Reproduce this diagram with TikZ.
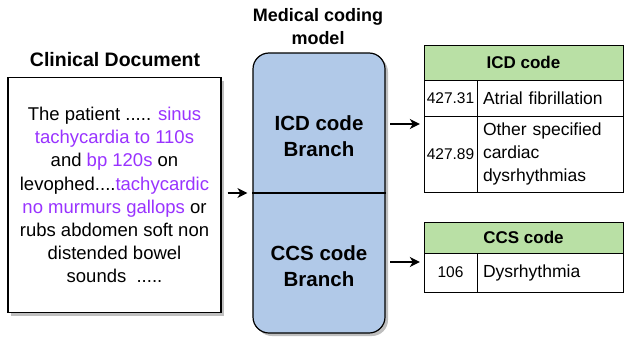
\documentclass[tikz,border=0pt]{standalone}
\usepackage{fontspec}
\setmainfont{Liberation Sans}
\usetikzlibrary{positioning,arrows.meta,shadows}

\definecolor{modelblue}{RGB}{177,201,232}
\definecolor{headgreen}{RGB}{185,224,165}
\definecolor{markpurple}{RGB}{153,51,255}

\newcommand{\marque}[1]{\textcolor{markpurple}{#1}}

\begin{document}
\begin{tikzpicture}[
      x=1pt, y=-1pt,
      >={Stealth[length=10pt,width=10pt,inset=3pt]},
      ombre/.style={
        drop shadow={shadow xshift=3pt, shadow yshift=-3pt, fill=black!25, opacity=1}
      },
      titre/.style={
        align=center,
        font=\bfseries\fontsize{18}{23}\selectfont
      },
      document/.style={
        draw,
        line width=1.2pt,
        fill=white,
        ombre,
        minimum width=213pt,
        minimum height=235pt,
        align=center,
        font=\fontsize{18.5}{23.2}\selectfont
      },
      branche/.style={
        minimum width=132pt,
        align=center,
        font=\bfseries\fontsize{20.5}{25.5}\selectfont
      },
      entete/.style={
        draw,
        fill=headgreen,
        minimum width=199pt,
        font=\bfseries\fontsize{17}{20}\selectfont
      },
      code/.style={
        draw,
        minimum width=53pt,
        inner sep=1pt,
        font=\fontsize{15.5}{18}\selectfont
      },
      libelle/.style={
        draw,
        text width=134pt,
        inner xsep=6pt,
        inner ysep=3pt,
        align=left,
        font=\fontsize{17.5}{23}\selectfont
      },
      fleche/.style={
        ->,
        line width=1.3pt
      }
    ]
    \useasboundingbox (0,0) rectangle (626,340);

    % document clinique
    \node[titre, font=\bfseries\fontsize{19.5}{23}\selectfont] (doctitle) at (115,60) {Clinical Document};
    \node[document] (doc) at (114.5,195) {The patient ..... \marque{sinus}\\
      \marque{tachycardia to 110s}\\
      and \marque{bp 120s} on\\
      levophed....\marque{tachycardic}\\
      \marque{no murmurs gallops} or\\
      rubs abdomen soft non\\
      distended bowel\\
      sounds\ \ .....};

    % modele
    \node[titre] (modeltitle) at (318,27) {Medical coding\\model};
    \node[draw, line width=1.2pt, fill=modelblue, ombre, rounded corners=16pt,
      minimum width=132pt, minimum height=280pt] (model) at (319,193) {};
    \draw[line width=1.2pt] (model.west) -- (model.east);
    \node[branche] (icdbranch) at (319,136) {ICD code\\Branch};
    \node[branche] (ccsbranch) at (319,266) {CCS code\\Branch};

    % tables
    \node[entete, minimum height=35pt] (icdhead) at (523.5,62.5) {ICD code};
    \node[code, minimum height=36pt] (icdcodeA) at (450.5,98) {427.31};
    \node[libelle, minimum height=36pt] (icddescA) at (550,98) {Atrial fibrillation};
    \node[code, minimum height=76pt] (icdcodeB) at (450.5,154) {427.89};
    \node[libelle, minimum height=76pt] (icddescB) at (550,154) {Other specified\\cardiac\\dysrhythmias};

    \node[entete, minimum height=31pt] (ccshead) at (523.5,237.5) {CCS code};
    \node[code, minimum height=39pt] (ccscode) at (450.5,272.5) {106};
    \node[libelle, minimum height=39pt] (ccsdesc) at (550,272.5) {Dysrhythmia};

    % fleches
    \draw[fleche, shorten <=6pt, shorten >=5pt] (model.west -| doc.east) -- (model.west);
    \draw[fleche, shorten <=5pt, shorten >=4pt] ([yshift=12pt]icdbranch.east) -- ([yshift=12pt]icdbranch.east -| icdhead.west);
    \draw[fleche, shorten <=5pt, shorten >=4pt] ([yshift=4pt]ccsbranch.east) -- ([yshift=4pt]ccsbranch.east -| ccshead.west);

  \end{tikzpicture}
\end{document}
